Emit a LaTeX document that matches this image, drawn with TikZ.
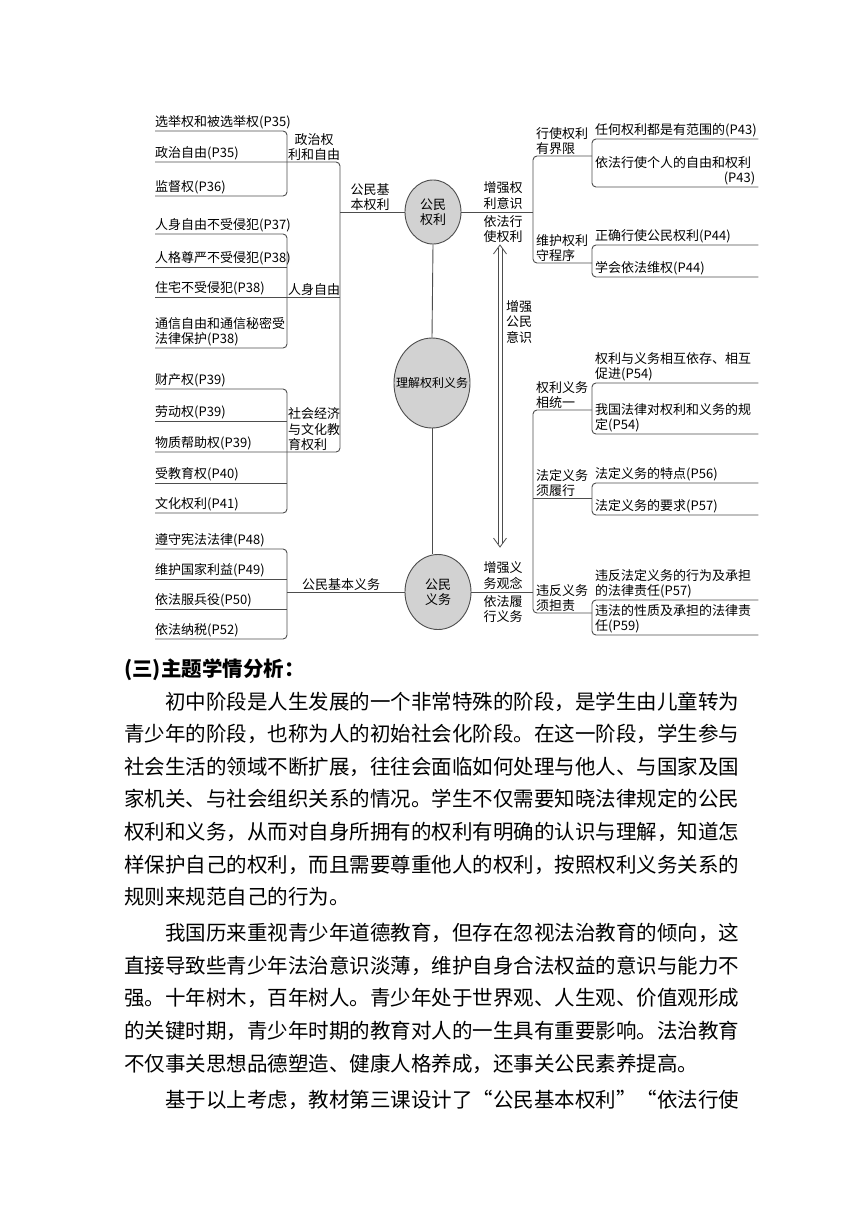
\documentclass[tikz,border=0pt]{standalone}
\usepackage{fontspec}
\setmainfont{Noto Sans CJK SC}
\newfontfamily\bodyfont[RawFeature=+fwid]{Noto Sans CJK SC}
\usepackage{tikz}
\usetikzlibrary{positioning, arrows.meta, shapes.geometric}
\definecolor{lineclr}{HTML}{4D4D4D}
\definecolor{bubble}{HTML}{D2D2D2}
\newcommand\mapfont{\fontsize{13}{15.5}\selectfont}

\begin{document}
\begin{tikzpicture}[x=1pt, y=-1pt,
  leaf/.style={anchor=south west, inner xsep=0pt, inner ysep=1.5pt, align=left, font=\mapfont},
  rleaf/.style={anchor=south west, inner xsep=3pt, inner ysep=1.5pt, text width=160pt,
                align=left, font=\mapfont},
  hub/.style={ellipse, draw=lineclr, line width=0.9pt, fill=bubble, inner sep=0pt,
              align=center, font=\mapfont},
  tag/.style={inner sep=1pt, align=center, font=\mapfont},
  link/.style={draw=lineclr, line width=0.9pt, rounded corners=4pt},
  rail/.style={draw=lineclr, line width=0.8pt},
  body/.style={anchor=base west, inner sep=0pt, font=\bodyfont\fontsize{20.5}{24}\selectfont}]
  \path[fill=white, use as bounding box] (0,0) rectangle (860,1216);

  % centre column
  \node[hub, minimum width=56pt, minimum height=64pt] (rt) at (433,212) {公民\\权利};
  \node[hub, minimum width=76pt, minimum height=90pt, font=\fontsize{12}{14}\selectfont]
        (un) at (432,383) {\makebox[0pt]{理解权利义务}};
  \node[hub, minimum width=66pt, minimum height=75pt] (ob) at (438,592) {公民\\义务};
  \draw[link] (rt.south) -- (un.north);
  \draw[link] (un.south) -- (un.south |- ob.north);

  \coordinate (kA) at (287,0);
  \coordinate (spine) at (340,0);
  \coordinate (kR) at (533,0);

  % left: rights
  \node[leaf] (a1) at (155,131) {选举权和被选举权(P35)};
  \node[leaf] (a2) at (155,162) {政治自由(P35)};
  \node[leaf] (a3) at (155,196) {监督权(P36)};
  \node[leaf] (b1) at (155,234) {人身自由不受侵犯(P37)};
  \node[leaf] (b2) at (155,267) {人格尊严不受侵犯(P38)};
  \node[leaf] (b3) at (155,297) {住宅不受侵犯(P38)};
  \node[leaf] (b4) at (155,348) {通信自由和通信秘密受\\法律保护(P38)};
  \node[leaf] (c1) at (155,389) {财产权(P39)};
  \node[leaf] (c2) at (155,421) {劳动权(P39)};
  \node[leaf] (c3) at (155,452) {物质帮助权(P39)};
  \node[leaf] (c4) at (155,483) {受教育权(P40)};
  \node[leaf] (c5) at (155,513) {文化权利(P41)};
  \node[tag, anchor=south] (tA) at (314,162) {政治权\\利和自由};
  \node[tag, anchor=south] (tB) at (314,297) {人身自由};
  \node[tag, anchor=south, align=left] (tC) at (314,452) {社会经济\\与文化教\\育权利};
  \node[tag, anchor=south, align=left] (tR) at (370,212) {公民基\\本权利};

  \draw[link] (a1.south west) -| (kA |- a3.south west) -- (a3.south west);
  \draw[link] (b1.south west) -| (kA |- b4.south west) -- (b4.south west);
  \draw[link] (b2.south west) -- (b2.south west -| kA);
  \draw[link] (c1.south west) -| (kA |- c5.south west) -- (c5.south west);
  \draw[link] (c2.south west) -- (c2.south west -| kA);
  \draw[link] (c4.south west) -- (c4.south west -| kA);
  \draw[link] (a2.south west) -| (spine |- c3.south west) -- (c3.south west);
  \draw[link] (b3.south west) -- (b3.south west -| spine);
  \draw[link] (spine |- rt) -- (rt.west);

  % left: duties
  \node[leaf] (d1) at (155,549) {遵守宪法法律(P48)};
  \node[leaf] (d2) at (155,579) {维护国家利益(P49)};
  \node[leaf] (d3) at (155,609) {依法服兵役(P50)};
  \node[leaf] (d4) at (155,639) {依法纳税(P52)};
  \node[tag, anchor=south] (tD) at (341,592) {公民基本义务};
  \draw[link] (d1.south west) -| (kA |- d4.south west) -- (d4.south west);
  \draw[link] (d2.south west) -- (d2.south west -| kA);
  \draw[link] (d3.south west) -- (d3.south west -| kA);
  \draw[link] (kA |- ob) -- (ob.west);

  % right: rights
  \node[tag, anchor=south, inner sep=2.5pt] (tR1) at (503,212) {增强权\\利意识};
  \node[tag, anchor=north, inner sep=3pt] (tR2) at (503,212) {依法行\\使权利};
  \node[tag, anchor=south west, align=left] (tE) at (535,156) {行使权利\\有界限};
  \node[tag, anchor=south west, align=left] (tF) at (535,263) {维护权利\\守程序};
  \node[rleaf] (e1) at (592,139) {任何权利都是有范围的(P43)};
  \node[rleaf] (e2) at (592,187) {依法行使个人的自由和权利\\\hspace*{\fill}(P43)};
  \node[rleaf] (f1) at (592,245) {正确行使公民权利(P44)};
  \node[rleaf] (f2) at (592,277) {学会依法维权(P44)};
  \coordinate (eIn) at (592,156);
  \coordinate (fIn) at (592,263);
  \draw[link] (rt.east) -- (kR |- rt);
  \draw[link] (eIn) -| (kR |- fIn) -- (fIn);
  \draw[link] (e1.south east) -- (e1.south west) -- (e2.south west) -- (e2.south east);
  \draw[link] (f1.south east) -- (f1.south west) -- (f2.south west) -- (f2.south east);

  % right: duties
  \node[tag, anchor=south, inner sep=2.5pt] (tO1) at (503,592) {增强义\\务观念};
  \node[tag, anchor=north, inner sep=3pt] (tO2) at (503,592) {依法履\\行义务};
  \node[tag, anchor=south west, align=left] (tG) at (535,410) {权利义务\\相统一};
  \node[tag, anchor=south west, align=left] (tH) at (535,498) {法定义务\\须履行};
  \node[tag, anchor=south west, align=left] (tI) at (535,613) {违反义务\\须担责};
  \node[rleaf] (g1) at (592,383) {权利与义务相互依存、相互\\促进(P54)};
  \node[rleaf] (g2) at (592,434) {我国法律对权利和义务的规\\定(P54)};
  \node[rleaf] (h1) at (592,483) {法定义务的特点(P56)};
  \node[rleaf] (h2) at (592,515) {法定义务的要求(P57)};
  \node[rleaf] (i1) at (592,600) {违反法定义务的行为及承担\\的法律责任(P57)};
  \node[rleaf] (i2) at (592,635) {违法的性质及承担的法律责\\任(P59)};
  \coordinate (gIn) at (592,410);
  \coordinate (hIn) at (592,498);
  \coordinate (iIn) at (592,613);
  \draw[link] (ob.east) -- (kR |- ob);
  \draw[link] (gIn) -| (kR |- iIn) -- (iIn);
  \draw[link] (kR |- hIn) -- (hIn);
  \draw[link] (g1.south east) -- (g1.south west) -- (g2.south west) -- (g2.south east);
  \draw[link] (h1.south east) -- (h1.south west) -- (h2.south west) -- (h2.south east);
  \draw[link] (i1.south east) -- (i1.south west) -- (i2.south west) -- (i2.south east);

  % awareness arrow (double shaft, open heads)
  \coordinate (up) at (500,245);
  \coordinate (dn) at (500,547);
  \draw[rail] ([shift={(-2,3)}]up) -- ([shift={(-2,-3)}]dn);
  \draw[rail] ([shift={(2,3)}]up) -- ([shift={(2,-3)}]dn);
  \draw[rail] (up) +(-6.5,9) -- (up) -- +(6.5,9);
  \draw[rail] (dn) +(-6.5,-9) -- (dn) -- +(6.5,-9);
  \node[tag, anchor=west] (tM) at (505,322) {增强\\公民\\意识};

  % text below
  \node[anchor=base west, inner sep=0pt, font=\fontsize{20.5}{24}\selectfont\bfseries]
        (head) at (124,676) {(三)主题学情分析：};
  \node[body] (p1) at (165,709) {初中阶段是人生发展的一个非常特殊的阶段，是学生由儿童转为};
  \node[body] (p2) at (124,741.6) {青少年的阶段，也称为人的初始社会化阶段。在这一阶段，学生参与};
  \node[body] (p3) at (124,774.2) {社会生活的领域不断扩展，往往会面临如何处理与他人、与国家及国};
  \node[body] (p4) at (124,806.8) {家机关、与社会组织关系的情况。学生不仅需要知晓法律规定的公民};
  \node[body] (p5) at (124,839.4) {权利和义务，从而对自身所拥有的权利有明确的认识与理解，知道怎};
  \node[body] (p6) at (124,872) {样保护自己的权利，而且需要尊重他人的权利，按照权利义务关系的};
  \node[body] (p7) at (124,904.6) {规则来规范自己的行为。};
  \node[body] (q1) at (165,940.6) {我国历来重视青少年道德教育，但存在忽视法治教育的倾向，这};
  \node[body] (q2) at (124,973.2) {直接导致些青少年法治意识淡薄，维护自身合法权益的意识与能力不};
  \node[body] (q3) at (124,1005.8) {强。十年树木，百年树人。青少年处于世界观、人生观、价值观形成};
  \node[body] (q4) at (124,1038.4) {的关键时期，青少年时期的教育对人的一生具有重要影响。法治教育};
  \node[body] (q5) at (124,1071) {不仅事关思想品德塑造、健康人格养成，还事关公民素养提高。};
  \node[body] (s1) at (165,1107) {基于以上考虑，教材第三课设计了“公民基本权利”“依法行使};
\end{tikzpicture}
\end{document}
